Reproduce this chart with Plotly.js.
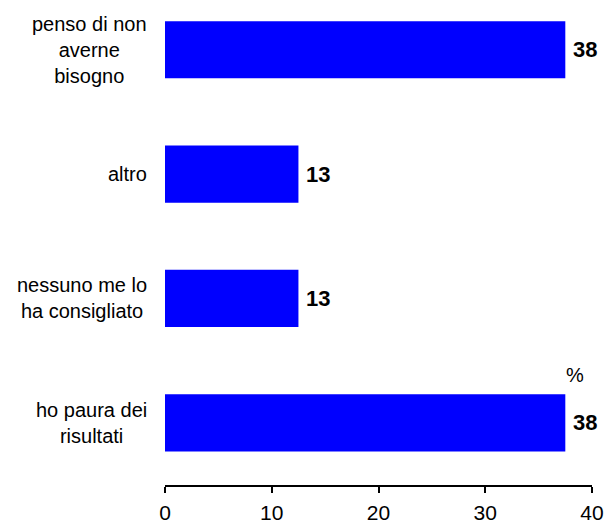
<!DOCTYPE html>
<html>
<head>
<meta charset="utf-8">
<script src="https://cdn.plot.ly/plotly-3.0.1.min.js"></script>
<style>html,body{margin:0;padding:0;background:#fff;}#chart{width:606px;height:524px;}</style>
</head>
<body>
<div id="chart"></div>
<script>
// Categories listed top to bottom
const categories = [
  "penso di non<br>averne<br>bisogno",
  "altro",
  "nessuno me lo<br>ha consigliato",
  "ho paura dei<br>risultati"
];
const values = [37.5, 12.5, 12.5, 37.5];
const xTicks = [0, 10, 20, 30, 40];
const unitLabel = "%";

const FONT = "Liberation Sans, Arial, sans-serif";

const trace = {
  type: "bar",
  orientation: "h",
  x: values,
  y: categories,
  marker: {color: "#0000FF", line: {width: 0}},
  width: 0.46,
  hoverinfo: "none"
};

const annotations = [];
categories.forEach((c, i) => {
  annotations.push({
    xref: "paper", yref: "y", x: 0, y: c,
    xanchor: "right", yanchor: "middle", xshift: -16,
    text: c, align: "center", showarrow: false,
    font: {family: FONT, size: 20, color: "#000"}
  });
  annotations.push({
    xref: "x", yref: "y", x: values[i], y: c,
    xanchor: "left", yanchor: "middle", xshift: 6,
    text: "<b>" + values[i].toFixed(0) + "</b>", showarrow: false,
    font: {family: FONT, size: 22, color: "#000"}
  });
});
annotations.push({
  xref: "paper", yref: "paper", x: 0.96, y: 0.226,
  xanchor: "center", yanchor: "middle",
  text: unitLabel, showarrow: false,
  font: {family: FONT, size: 20, color: "#000"}
});

const layout = {
  width: 606, height: 524,
  margin: {l: 165, r: 14, t: 0, b: 39, pad: 0},
  paper_bgcolor: "#fff", plot_bgcolor: "#fff",
  showlegend: false,
  font: {family: FONT, size: 20, color: "#000"},
  xaxis: {
    range: [0, 40], tickvals: xTicks, ticktext: xTicks.map(String),
    showgrid: false, zeroline: false, showline: true, linecolor: "#000", linewidth: 2,
    ticks: "outside", ticklen: 6, tickwidth: 2, tickcolor: "#000",
    ticklabelstandoff: 2,
    tickfont: {family: FONT, size: 21, color: "#000"}, fixedrange: true
  },
  yaxis: {
    type: "category", categoryarray: categories, categoryorder: "array",
    range: [3.5, -0.4],
    showgrid: false, zeroline: false, showline: false, ticks: "",
    showticklabels: false, fixedrange: true
  },
  annotations: annotations
};

Plotly.newPlot("chart", [trace], layout, {displayModeBar: false, staticPlot: true});
</script>
</body>
</html>
